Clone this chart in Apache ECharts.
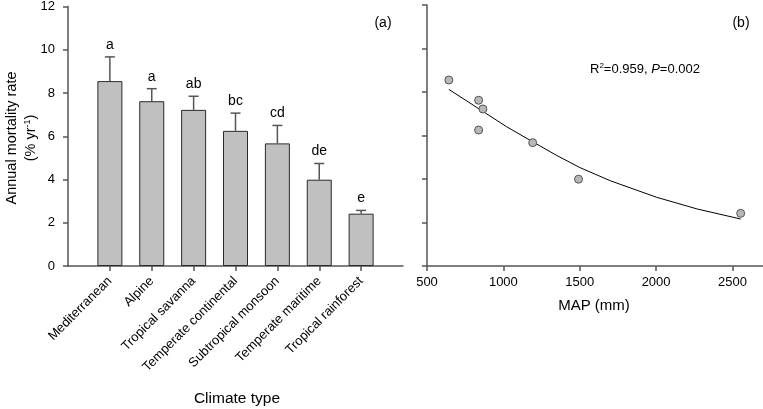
<!DOCTYPE html>
<html>
<head>
<meta charset="utf-8">
<script src="https://cdn.jsdelivr.net/npm/echarts@6/dist/echarts.min.js"></script>
<style>
html,body{margin:0;padding:0;background:#fff;}
#c{width:763px;height:409px;}
</style>
</head>
<body>
<div id="c"></div>
<script>
// ---- data ----
const categories = ['Mediterranean','Alpine','Tropical savanna','Temperate continental','Subtropical monsoon','Temperate maritime','Tropical rainforest'];
const meanRate = [8.55, 7.62, 7.22, 6.25, 5.67, 3.99, 2.42];
const errRate = [1.12, 0.58, 0.63, 0.82, 0.83, 0.75, 0.15];
const groupLetters = ['a','a','ab','bc','cd','de','e'];
const mapMM = [643, 838, 866, 838, 1192, 1492, 2554];
const fitX = [643, 802, 1022, 1190, 1350, 1503, 1700, 2003, 2270, 2554];
const fitY = [8.12, 7.40, 6.40, 5.72, 5.08, 4.52, 3.92, 3.16, 2.62, 2.16];
const yTicks = [0, 2, 4, 6, 8, 10, 12];
const mapTicks = [500, 1000, 1500, 2000, 2500];

const FONT = 'Liberation Sans, Arial, sans-serif';
const AX = '#555';

const chart = echarts.init(document.getElementById('c'), null, {renderer:'canvas'});
const paddedCats = [''].concat(categories, ['']);

const option = {
  animation: false,
  backgroundColor: '#fff',
  textStyle: {fontFamily: FONT},
  grid: [
    {left: 68, top: 5, width: 335, height: 261},
    {left: 427, top: 5, width: 336, height: 261}
  ],
  xAxis: [
    {
      type: 'category', gridIndex: 0, data: paddedCats, boundaryGap: false,
      axisLine: {lineStyle: {color: AX, width: 1.5}},
      axisTick: {length: 5, interval: function(i){ return i > 0 && i < 8; }, lineStyle: {color: AX, width: 1.5}},
      axisLabel: {interval: 0, rotate: 45, fontSize: 13, color: '#000', margin: 13, fontFamily: FONT},
      splitLine: {show: false}
    },
    {
      type: 'value', gridIndex: 1, min: 500, max: 2700,
      axisLine: {onZero: false, lineStyle: {color: AX, width: 1.5}},
      axisTick: {length: 5, customValues: mapTicks, lineStyle: {color: AX, width: 1.5}},
      axisLabel: {customValues: mapTicks, formatter: function(v){ return String(v); }, fontSize: 13, color: '#000', margin: 10, fontFamily: FONT},
      splitLine: {show: false}
    }
  ],
  yAxis: [
    {
      type: 'value', gridIndex: 0, min: 0, max: 12, interval: 2,
      axisLine: {show: true, lineStyle: {color: AX, width: 1.5}},
      axisTick: {show: true, length: 5, customValues: yTicks, lineStyle: {color: AX, width: 1.5}},
      axisLabel: {customValues: yTicks, fontSize: 13, color: '#000', margin: 13, fontFamily: FONT},
      splitLine: {show: false}
    },
    {
      type: 'value', gridIndex: 1, min: 0, max: 12, interval: 2,
      axisLine: {show: true, onZero: false, lineStyle: {color: AX, width: 1.5}},
      axisTick: {show: true, length: 5, customValues: yTicks, lineStyle: {color: AX, width: 1.5}},
      axisLabel: {show: false},
      splitLine: {show: false}
    }
  ],
  series: [
    {
      type: 'bar', xAxisIndex: 0, yAxisIndex: 0, barWidth: 25,
      data: meanRate.map((v, i) => [i + 1, v]),
      itemStyle: {color: '#c0c0c0', borderColor: '#2a2a2a', borderWidth: 1}
    },
    {
      type: 'custom', xAxisIndex: 0, yAxisIndex: 0, z: 5,
      data: meanRate.map((v, i) => [i + 1, v, errRate[i]]),
      encode: {x: 0, y: 1},
      renderItem: function(params, api){
        const x = api.value(0), m = api.value(1), e = api.value(2);
        const p0 = api.coord([x, m]);
        const p1 = api.coord([x, m + e]);
        const cap = 5;
        return {type: 'group', children: [
          {type: 'line', shape: {x1: p0[0], y1: p0[1], x2: p1[0], y2: p1[1]}, style: {stroke: AX, lineWidth: 1.5}},
          {type: 'line', shape: {x1: p1[0] - cap, y1: p1[1], x2: p1[0] + cap, y2: p1[1]}, style: {stroke: AX, lineWidth: 1.5}},
          {type: 'text', style: {text: groupLetters[params.dataIndex], x: p1[0], y: p1[1] - 12, align: 'center', verticalAlign: 'middle', font: '14px ' + FONT, fill: '#000'}}
        ]};
      }
    },
    {
      type: 'line', xAxisIndex: 1, yAxisIndex: 1, smooth: false, showSymbol: false,
      data: fitX.map((x, i) => [x, fitY[i]]),
      lineStyle: {color: '#000', width: 1}, z: 3
    },
    {
      type: 'scatter', xAxisIndex: 1, yAxisIndex: 1, symbolSize: 8,
      data: mapMM.map((x, i) => [x, meanRate[i]]),
      itemStyle: {color: '#b8b8b8', borderColor: '#555', borderWidth: 1, opacity: 1}, z: 4
    }
  ],
  graphic: [
    {type: 'text', x: 383, y: 23, style: {text: '(a)', font: '14px ' + FONT, fill: '#000', align: 'center', verticalAlign: 'middle'}},
    {type: 'text', x: 741, y: 23, style: {text: '(b)', font: '14px ' + FONT, fill: '#000', align: 'center', verticalAlign: 'middle'}},
    {type: 'text', x: 645, y: 69, style: {
      text: 'R{sup|2}=0.959, {it|P}=0.002', font: '13px ' + FONT, fill: '#000', align: 'center', verticalAlign: 'middle',
      rich: {sup: {fontSize: 8, fontFamily: FONT, padding: [0, 0, 7, 0]}, it: {fontStyle: 'italic', fontSize: 13, fontFamily: FONT}}
    }},
    {type: 'text', x: 12, y: 138, rotation: Math.PI / 2, style: {text: 'Annual mortality rate', font: '14.5px ' + FONT, fill: '#000', align: 'center', verticalAlign: 'middle'}},
    {type: 'text', x: 31, y: 138, rotation: Math.PI / 2, style: {
      text: '(% yr{sup|-1})', font: '14.5px ' + FONT, fill: '#000', align: 'center', verticalAlign: 'middle',
      rich: {sup: {fontSize: 9, fontFamily: FONT, padding: [0, 0, 7, 0]}}
    }},
    {type: 'text', x: 237, y: 399, style: {text: 'Climate type', font: '15.5px ' + FONT, fill: '#000', align: 'center', verticalAlign: 'middle'}},
    {type: 'text', x: 594, y: 306, style: {text: 'MAP (mm)', font: '15px ' + FONT, fill: '#000', align: 'center', verticalAlign: 'middle'}}
  ]
};
chart.setOption(option);
</script>
</body>
</html>
